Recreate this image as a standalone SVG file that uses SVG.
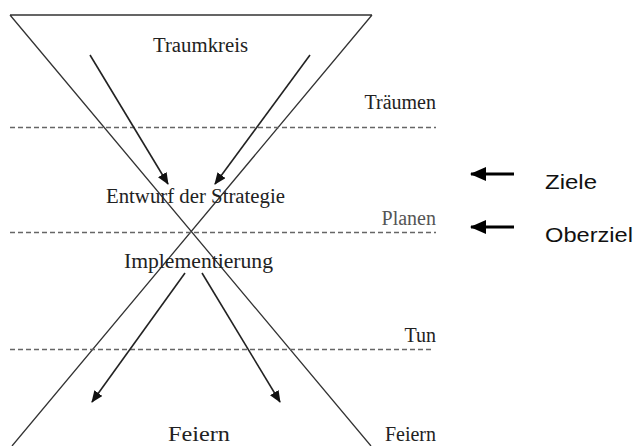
<svg xmlns="http://www.w3.org/2000/svg" width="637" height="446" viewBox="0 0 637 446">
<style>
.s{font-family:"Liberation Serif","Times New Roman",serif;font-size:20px;fill:#222}
.a{font-family:"Liberation Sans",Arial,sans-serif;font-size:21px;fill:#111}
.ln{stroke:#333;stroke-width:1.3;fill:none}
.ds{stroke:#666;stroke-width:1.3;stroke-dasharray:5 3;fill:none}
.ar{stroke:#222;stroke-width:1.6;fill:none}
.rt{text-anchor:end}
</style>
<defs>
<marker id="ah" markerWidth="12" markerHeight="10" refX="11" refY="5" orient="auto" markerUnits="userSpaceOnUse">
<path d="M0,0 L12,5 L0,10 Z" fill="#111"/>
</marker>
<marker id="ah2" markerWidth="16" markerHeight="14" refX="15" refY="7" orient="auto" markerUnits="userSpaceOnUse">
<path d="M0,0 L16,7 L0,14 Z" fill="#000"/>
</marker>
</defs>
<g id="hourglass">
<path class="ln" d="M10,15 L372,15 M10,15 L371,446 M372,15 L12,446"/>
</g>
<g id="levels">
<line class="ds" x1="10" y1="127.5" x2="436" y2="127.5"/>
<line class="ds" x1="10" y1="232.5" x2="436" y2="232.5"/>
<line class="ds" x1="10" y1="349.5" x2="434" y2="349.5"/>
</g>
<g id="connectors">
<line class="ar" x1="90" y1="55" x2="168" y2="184" marker-end="url(#ah)"/>
<line class="ar" x1="310" y1="55" x2="215" y2="184" marker-end="url(#ah)"/>
<line class="ar" x1="185" y1="273" x2="92" y2="402" marker-end="url(#ah)"/>
<line class="ar" x1="202" y1="273" x2="280" y2="402" marker-end="url(#ah)"/>
<line x1="514" y1="174" x2="471" y2="174" stroke="#000" stroke-width="3" marker-end="url(#ah2)"/>
<line x1="514" y1="227" x2="471" y2="227" stroke="#000" stroke-width="3" marker-end="url(#ah2)"/>
</g>
<g id="traumkreis"><text class="s" x="153" y="52" textLength="95" lengthAdjust="spacingAndGlyphs">Traumkreis</text></g>
<g id="entwurf"><text class="s" x="106" y="203" textLength="179" lengthAdjust="spacingAndGlyphs">Entwurf der Strategie</text></g>
<g id="implementierung"><text class="s" x="124" y="268" textLength="149" lengthAdjust="spacingAndGlyphs">Implementierung</text></g>
<g id="feiern-mitte"><text class="s" x="168" y="441" textLength="62" lengthAdjust="spacingAndGlyphs">Feiern</text></g>
<g id="traeumen"><text class="s rt" x="436" y="109">Träumen</text></g>
<g id="planen"><text class="s rt" x="436" y="225" style="fill:#555">Planen</text></g>
<g id="tun"><text class="s rt" x="436" y="342">Tun</text></g>
<g id="feiern-rechts"><text class="s rt" x="436" y="441">Feiern</text></g>
<g id="ziele"><text class="a" x="545" y="189" textLength="52" lengthAdjust="spacingAndGlyphs">Ziele</text></g>
<g id="oberziel"><text class="a" x="545" y="242" textLength="88" lengthAdjust="spacingAndGlyphs">Oberziel</text></g>
</svg>
